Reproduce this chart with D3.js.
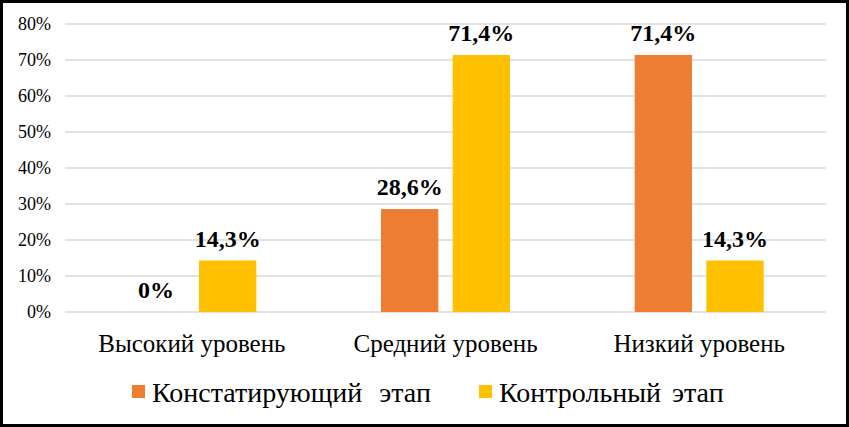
<!DOCTYPE html>
<html>
<head>
<meta charset="utf-8">
<script src="https://cdn.jsdelivr.net/npm/d3@7"></script>
<style>
  html, body { margin: 0; padding: 0; background: #fff; }
  #chart { width: 849px; height: 427px; }
</style>
</head>
<body>
<div id="chart"></div>
<script>
var categories = ["Высокий уровень", "Средний уровень", "Низкий уровень"];
var seriesNames = ["Констатирующий этап", "Контрольный этап"];
var seriesColors = ["#ED7D31", "#FFC000"];
var valuesStart = [0, 28.6, 71.4];
var valuesControl = [14.3, 71.4, 14.3];
var labelsStart = ["0%", "28,6%", "71,4%"];
var labelsControl = ["14,3%", "71,4%", "14,3%"];
var yTicks = [0, 10, 20, 30, 40, 50, 60, 70, 80];

var serif = "Liberation Serif";

var width = 849, height = 427;
var margin = { top: 24, right: 23, bottom: 115, left: 65 };
var plotW = width - margin.left - margin.right;
var plotH = height - margin.top - margin.bottom;

var svg = d3.select("#chart").append("svg")
    .attr("width", width)
    .attr("height", height)
    .style("font-family", serif);

// outer frame
svg.append("rect")
    .attr("x", 1.5).attr("y", 1.5)
    .attr("width", width - 3).attr("height", height - 3)
    .attr("fill", "#fff")
    .attr("stroke", "#000")
    .attr("stroke-width", 3);

var g = svg.append("g")
    .attr("transform", "translate(" + margin.left + "," + margin.top + ")");

var x0 = d3.scaleBand().domain(categories).range([0, plotW]);
var x1 = d3.scaleBand().domain([0, 1]).range([0, 129]).paddingInner(0.2);
var y = d3.scaleLinear().domain([0, 80]).range([plotH, 0]);

// gridlines
g.selectAll(".grid")
    .data(yTicks)
    .enter().append("line")
    .attr("x1", 0).attr("x2", plotW)
    .attr("y1", function (d) { return y(d); })
    .attr("y2", function (d) { return y(d); })
    .attr("stroke", "#D9D9D9")
    .attr("stroke-width", 1.5);

// y axis
var yAxis = g.append("g")
    .call(d3.axisLeft(y).tickValues(yTicks).tickSize(0).tickPadding(14)
        .tickFormat(function (d) { return d + "%"; }))
    .attr("font-family", serif);
yAxis.select(".domain").remove();
yAxis.selectAll(".tick text")
    .attr("fill", "#000")
    .style("font-family", serif)
    .style("font-size", "18px");

// x axis labels
var xAxis = g.append("g")
    .attr("transform", "translate(0," + plotH + ")")
    .call(d3.axisBottom(x0).tickSize(0).tickPadding(22))
    .attr("font-family", serif);
xAxis.select(".domain").remove();
xAxis.selectAll(".tick text")
    .attr("fill", "#000")
    .style("font-family", serif)
    .style("font-size", "25px");

var rows = categories.map(function (c, i) {
    return { cat: c, vals: [valuesStart[i], valuesControl[i]], labels: [labelsStart[i], labelsControl[i]] };
});

var groups = g.selectAll(".group")
    .data(rows)
    .enter().append("g")
    .attr("transform", function (d) {
        return "translate(" + (x0(d.cat) + (x0.bandwidth() - 129) / 2) + ",0)";
    });

groups.selectAll("rect")
    .data(function (d) { return d.vals.map(function (v, k) { return { k: k, v: v }; }); })
    .enter().append("rect")
    .attr("x", function (d) { return x1(d.k); })
    .attr("width", x1.bandwidth())
    .attr("y", function (d) { return y(d.v); })
    .attr("height", function (d) { return plotH - y(d.v); })
    .attr("fill", function (d) { return seriesColors[d.k]; });

groups.selectAll(".lbl")
    .data(function (d) { return d.vals.map(function (v, k) { return { k: k, v: v, t: d.labels[k] }; }); })
    .enter().append("text")
    .attr("class", "lbl")
    .attr("x", function (d) { return x1(d.k) + x1.bandwidth() / 2; })
    .attr("y", function (d) { return y(d.v) - 14; })
    .attr("text-anchor", "middle")
    .style("font-family", serif)
    .style("font-size", "24px")
    .style("font-weight", "bold")
    .text(function (d) { return d.t; });

// legend
var legend = svg.append("g").attr("transform", "translate(0,402)");
var legendX = [132, 479];
var legendGap = [10, 4];
seriesNames.forEach(function (name, i) {
    legend.append("rect")
        .attr("x", legendX[i]).attr("y", -17)
        .attr("width", 13).attr("height", 13)
        .attr("fill", seriesColors[i]);
    legend.append("text")
        .attr("x", legendX[i] + 20).attr("y", 0)
        .style("font-family", serif)
        .style("font-size", "28px")
        .style("word-spacing", legendGap[i] + "px")
        .text(name);
});
</script>
</body>
</html>
